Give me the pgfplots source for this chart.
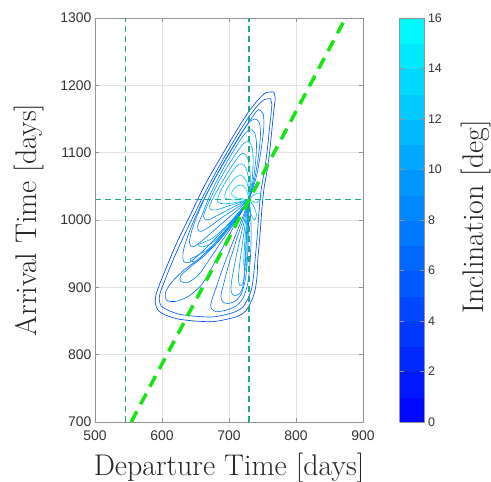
\documentclass[border=0pt]{standalone}
\usepackage{pgfplots}
\pgfplotsset{compat=1.18}
\usepackage{fontspec}
\setsansfont{Liberation Sans}
\definecolor{grn}{RGB}{20,230,20}
\definecolor{tealdash}{RGB}{30,170,135}
\definecolor{gA}{RGB}{0,70,245}
\definecolor{gB}{RGB}{0,90,245}
\definecolor{g105}{RGB}{0,105,250}
\definecolor{g120}{RGB}{0,120,250}
\definecolor{g135}{RGB}{0,135,250}
\definecolor{g150}{RGB}{0,150,250}
\definecolor{g165}{RGB}{0,165,250}
\definecolor{g180}{RGB}{0,180,250}
\definecolor{g195}{RGB}{0,195,250}
\definecolor{g215}{RGB}{0,215,250}
\begin{document}
\begin{tikzpicture}
\useasboundingbox (-95bp,-60bp) rectangle (396bp,422bp);
\begin{axis}[
  at={(0,0)}, anchor=south west,
  scale only axis, width=268bp, height=404bp,
  xmin=500, xmax=900, ymin=700, ymax=1300,
  xtick={500,600,...,900}, ytick={700,800,...,1300},
  grid=major, major grid style={gray!22, line width=0.6bp},
  tick align=inside, major tick length=4bp,
  axis line style={gray!85, line width=0.7bp},
  tick style={gray!85, line width=0.6bp},
  tick label style={font=\sffamily\fontsize{14}{16}\selectfont, text=black!80},
  xticklabel style={yshift=-5bp},
  /pgf/number format/assume math mode=true,
  /pgf/number format/1000 sep={},
  xlabel={Departure Time [days]},
  ylabel={Arrival Time [days]},
  label style={font=\fontsize{30}{36}\selectfont, text=black!85},
  xlabel style={at={(axis description cs:0.5,-0.1312)}, anchor=base},
  ylabel style={at={(axis description cs:-0.2201,0.5)}, anchor=base},
  colorbar sampled,
  colormap={bc}{rgb255=(0,0,255) rgb255=(0,255,255)},
  point meta min=0, point meta max=16,
  colorbar style={samples=17, at={(parent axis.north east)}, anchor=north west,
    xshift=28bp, scale only axis, width=25bp, height=404bp,
    ytick={0,2,...,16},
    /pgf/number format/assume math mode=true,
    tick label style={font=\sffamily\fontsize{12.5}{14}\selectfont, text=black!80},
    yticklabel style={font=\sffamily\fontsize{12.5}{14}\selectfont, text=black!80},
    axis line style={gray!85, line width=0.7bp},
    tick style={gray!85, line width=0.6bp}},
]
% outer contours
\addplot[smooth, line width=0.65bp, color=gA] coordinates {(767,1190)(769,1181)(767,1163)(764,1134)(761,1104)(757,1074)(752,1045)(749,1015)(746,975)(743,941)(742,918)(739,896)(734,881)(725,865)(713,857)(694,852)(675,849)(649,850)(624,853)(605,859)(594,866)(590,877)(591,889)(597,906)(608,933)(622,966)(642,1007)(664,1052)(687,1092)(709,1129)(728,1159)(743,1178)(755,1189)(767,1190)};
\addplot[smooth, line width=0.65bp, color=gB] coordinates {(762,1180)(764,1172)(763,1160)(760,1132)(757,1103)(753,1074)(748,1045)(745,1015)(742,975)(739,942)(737,920)(734,899)(729,885)(721,871)(710,864)(693,859)(675,856)(650,857)(626,860)(609,866)(599,872)(596,881)(597,891)(603,907)(613,932)(627,964)(646,1004)(668,1048)(690,1088)(711,1124)(729,1152)(742,1169)(753,1179)(762,1180)};
% upper petals
\addplot[smooth, line width=0.6bp, color=g105] coordinates {(730,1030)(741,1065)(748,1105)(752,1138)(751,1157)(744,1164)(737,1156)(721,1132)(700,1098)(677,1058)(656,1018)(641,983)(632,955)(632,939)(641,937)(660,953)(685,978)(708,1003)(722,1020)(730,1030)};
\addplot[smooth, line width=0.6bp, color=g120] coordinates {(730,1030)(738,1060)(744,1095)(747,1127)(745,1145)(738,1150)(728,1143)(711,1117)(691,1084)(672,1049)(656,1015)(645,986)(641,967)(646,960)(662,971)(685,991)(707,1010)(730,1030)};
\addplot[smooth, line width=0.6bp, color=g135] coordinates {(730,1030)(736,1058)(740,1090)(741,1115)(738,1130)(731,1134)(721,1125)(705,1100)(688,1070)(672,1038)(660,1008)(653,990)(657,983)(671,990)(690,1004)(710,1017)(730,1030)};
\addplot[smooth, line width=0.6bp, color=g150] coordinates {(730,1030)(734,1055)(736,1082)(735,1105)(730,1116)(722,1114)(710,1098)(695,1075)(680,1048)(667,1020)(662,1005)(668,1000)(685,1008)(708,1020)(730,1030)};
\addplot[smooth, line width=0.6bp, color=g165] coordinates {(730,1030)(732,1052)(731,1075)(727,1094)(720,1099)(711,1090)(699,1072)(686,1050)(674,1028)(671,1017)(680,1015)(700,1021)(730,1030)};
\addplot[smooth, line width=0.6bp, color=g180] coordinates {(730,1030)(730,1050)(728,1068)(723,1081)(715,1083)(705,1072)(694,1055)(685,1038)(683,1027)(692,1024)(710,1026)(730,1030)};
\addplot[smooth, line width=0.6bp, color=g195] coordinates {(730,1030)(729,1045)(726,1058)(719,1066)(711,1064)(702,1054)(695,1042)(694,1033)(704,1030)(730,1030)};
\addplot[smooth, line width=0.6bp, color=g215] coordinates {(730,1030)(727,1042)(721,1051)(713,1051)(706,1045)(704,1037)(712,1033)(730,1030)};
% lower-left petals
\addplot[smooth, line width=0.6bp, color=g105] coordinates {(730,1030)(716,1010)(700,990)(676,962)(652,940)(632,925)(614,907)(605,892)(607,881)(620,879)(640,887)(660,905)(676,932)(694,965)(712,1000)(730,1030)};
\addplot[smooth, line width=0.6bp, color=g120] coordinates {(730,1030)(705,994)(685,969)(663,947)(642,930)(628,917)(628,909)(638,907)(654,918)(670,940)(688,967)(707,994)(730,1030)};
\addplot[smooth, line width=0.6bp, color=g150] coordinates {(730,1030)(707,998)(688,974)(668,956)(650,946)(642,942)(646,938)(660,944)(676,962)(693,983)(730,1030)};
\addplot[smooth, line width=0.6bp, color=g165] coordinates {(730,1030)(700,995)(677,974)(660,966)(654,963)(660,960)(675,966)(695,985)(730,1030)};
% lower-right petals
\addplot[smooth, line width=0.6bp, color=g105] coordinates {(730,1030)(720,1003)(706,968)(692,932)(681,900)(674,880)(673,870)(680,864)(695,866)(710,872)(721,884)(728,906)(732,945)(733,990)(730,1030)};
\addplot[smooth, line width=0.6bp, color=g120] coordinates {(730,1030)(722,1003)(711,970)(700,935)(692,905)(688,888)(690,879)(698,876)(710,880)(719,892)(725,915)(728,950)(729,990)(730,1030)};
\addplot[smooth, line width=0.6bp, color=g135] coordinates {(730,1030)(724,1003)(716,970)(709,937)(704,910)(703,895)(707,888)(715,890)(721,902)(724,930)(726,970)(728,1000)(730,1030)};
\addplot[smooth, line width=0.6bp, color=g150] coordinates {(730,1030)(725,1000)(720,965)(716,935)(714,913)(716,903)(721,906)(723,925)(725,960)(727,995)(730,1030)};
\addplot[smooth, line width=0.6bp, color=g165] coordinates {(730,1030)(726,995)(723,960)(722,935)(724,926)(726,932)(727,960)(728,995)(730,1030)};
% small petals right of the singular point
\addplot[smooth, line width=0.6bp, color=g195] coordinates {(730,1030)(738,1038)(746,1040)(748,1033)(742,1026)(730,1030)};
\addplot[smooth, line width=0.6bp, color=g180] coordinates {(730,1030)(737,1020)(741,1008)(738,1000)(733,1008)(730,1030)};
% reference lines
\addplot[draw=tealdash, line width=1.2bp, dash pattern=on 6bp off 4bp] coordinates {(546,700)(546,1300)};
\addplot[draw=tealdash, line width=1.2bp, dash pattern=on 6bp off 4bp] coordinates {(730,700)(730,1300)};
\addplot[draw=tealdash, line width=1.2bp, dash pattern=on 6bp off 4bp] coordinates {(500,1030.4)(900,1030.4)};
\addplot[draw=grn, line width=3.5bp, dash pattern=on 12bp off 8bp] coordinates {(554,700)(874,1300)};
\end{axis}
\node[rotate=90, anchor=base, font=\fontsize{30}{36}\selectfont, text=black!85] at (388bp,205bp) {Inclination [deg]};
\end{tikzpicture}
\end{document}
